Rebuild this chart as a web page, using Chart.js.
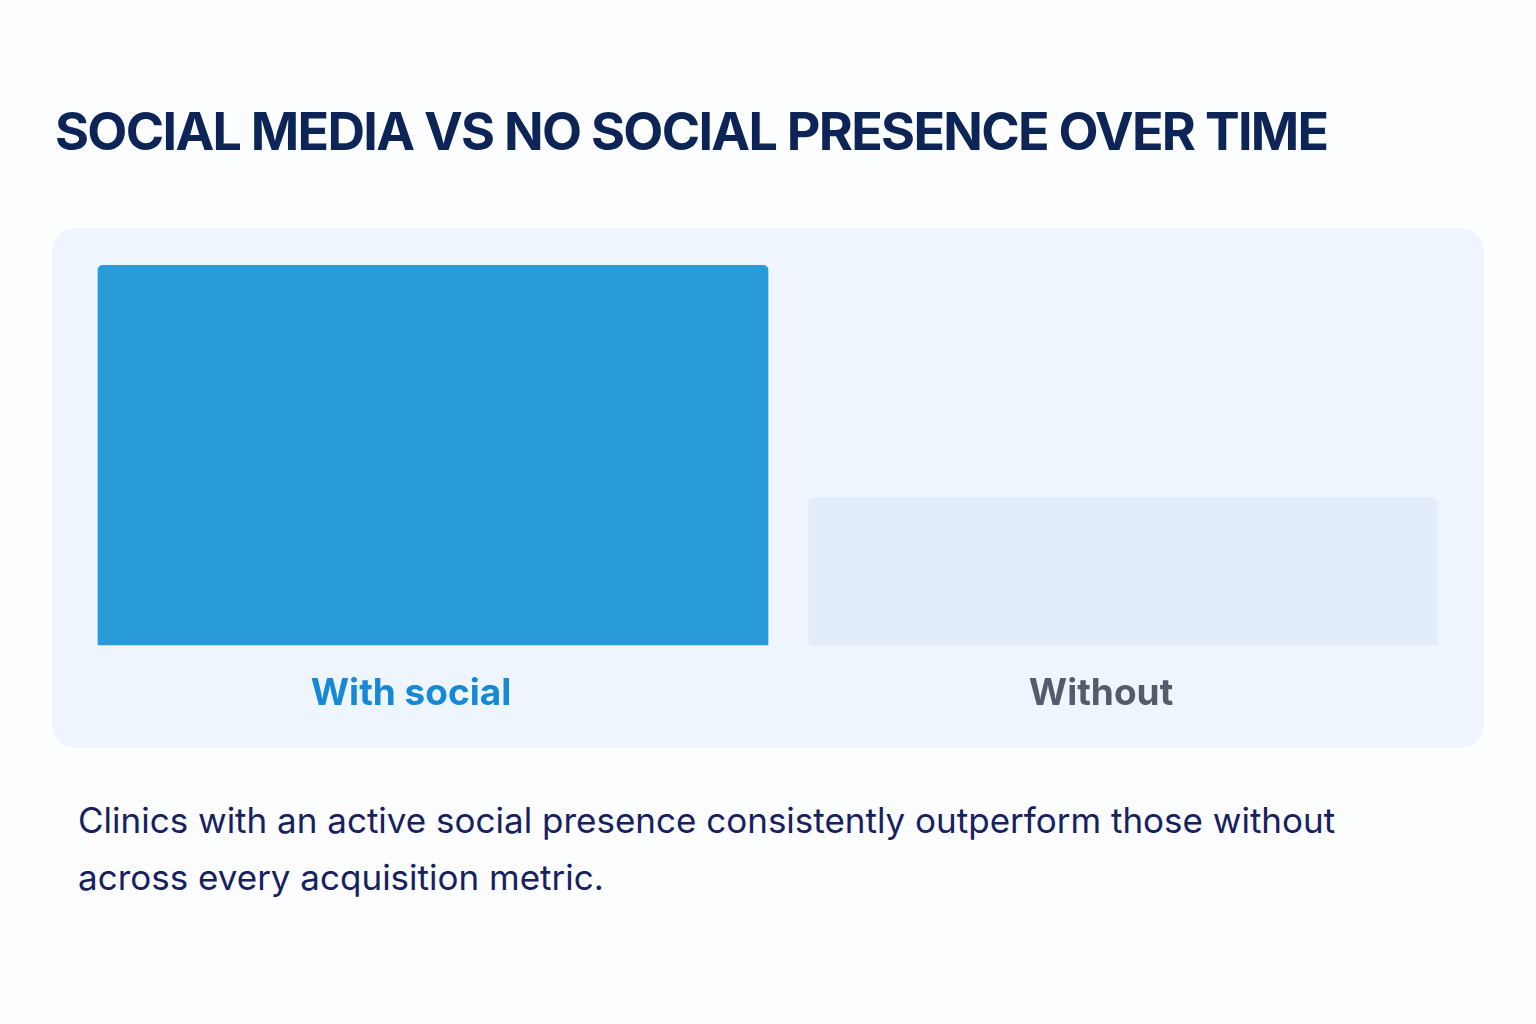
<!DOCTYPE html>
<html>
<head>
<meta charset="utf-8">
<script src="https://cdn.jsdelivr.net/npm/chart.js@4"></script>
<style>
  html, body { margin: 0; padding: 0; }
  body { width: 1536px; height: 1024px; background: #fcfdfe; font-family: Inter, "Noto Sans", sans-serif; position: relative; overflow: hidden; }
  h1 { position: absolute; left: 55px; top: 96px; margin: 0; font-size: 52px; font-weight: 700; color: #0d2456; letter-spacing: -1.7px; line-height: 72px; white-space: nowrap; }
  .panel { position: absolute; left: 52px; top: 228px; width: 1432px; height: 520px; background: #eef5fd; border-radius: 24px; }
  .panel canvas { display: block; }
  .caption { position: absolute; left: 78px; top: 792px; margin: 0; font-size: 35px; line-height: 57px; color: #17215f; width: 1300px; }
</style>
</head>
<body>
<h1>SOCIAL MEDIA VS NO SOCIAL PRESENCE OVER TIME</h1>
<div class="panel"><canvas id="barChart" width="1432" height="520"></canvas></div>
<p class="caption">Clinics with an active social presence consistently outperform those without<br>across every acquisition metric.</p>
<script>
// values (relative scale, "With social" = 100)
const categories = ["With social", "Without"];
const withSocial = [100, null];
const withoutSocial = [null, 39];
const labelColors = ["#1688d6", "#545c69"];

const ctx = document.getElementById('barChart').getContext('2d');
const myChart = new Chart(ctx, {
    type: 'bar',
    data: {
        labels: categories,
        datasets: [{
            label: categories[0],
            data: withSocial,
            backgroundColor: "#2a9bd9",
            borderRadius: 5,
            barPercentage: 0.972,
            categoryPercentage: 1
        }, {
            label: categories[1],
            data: withoutSocial,
            backgroundColor: "#e2edf9",
            borderRadius: 6,
            barPercentage: 0.912,
            categoryPercentage: 1
        }]
    },
    options: {
        responsive: false,
        animation: false,
        layout: { padding: { left: 36, right: 16, top: 37, bottom: 6 } },
        plugins: { legend: { display: false }, tooltip: { enabled: false } },
        scales: {
            x: {
                stacked: true,
                grid: { display: false, drawTicks: false },
                border: { display: false },
                ticks: {
                    labelOffset: -22,
                    padding: 26,
                    color: (c) => labelColors[c.index],
                    font: { family: "Inter", size: 37, weight: "bold" }
                }
            },
            y: {
                display: false,
                beginAtZero: true,
                min: 0,
                max: 100
            }
        }
    }
});
</script>
</body>
</html>
